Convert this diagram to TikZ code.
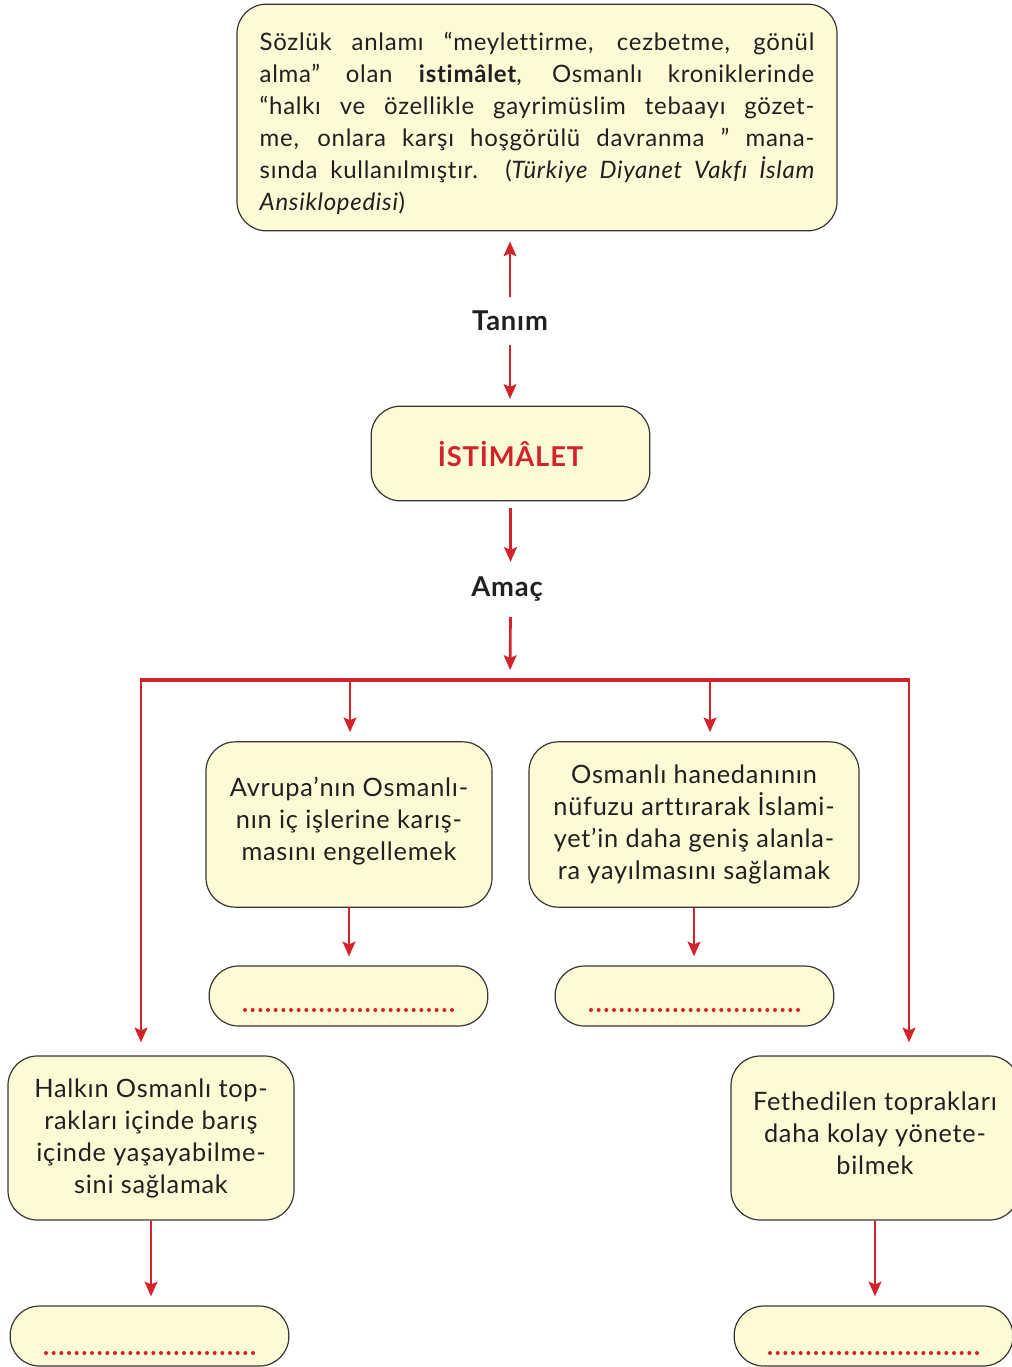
\documentclass[tikz,border=0pt]{standalone}
\usepackage{fontspec}
\setmainfont{Lato}[LetterSpace=3, Ligatures=NoCommon]
\usetikzlibrary{arrows.meta,positioning}
\definecolor{sari}{HTML}{FDFBD6}
\definecolor{kirmizi}{HTML}{D2232A}
\definecolor{yazi}{HTML}{231F20}
\tikzset{
	kutu/.style={draw=yazi!90, line width=0.9pt, fill=sari, rounded corners=22pt, inner sep=0pt,
		text=yazi, align=center, font=\fontsize{19}{24}\selectfont,
		minimum width=214.5pt, minimum height=124pt},
	bos/.style={kutu, minimum width=209pt, minimum height=45pt},
	ok/.style={draw=kirmizi, line width=2pt, -{Stealth[length=11pt,width=9.5pt,inset=2pt]}},
	baslik/.style={font=\bfseries\fontsize{20.5}{22}\selectfont, text=yazi, inner sep=0pt},
	nokta/.style={draw=kirmizi, line width=3pt, line cap=round, dash pattern=on 0pt off 5.75pt},
}

\begin{document}
\begin{tikzpicture}[x=0.75pt, y=-0.75pt]
	\path[use as bounding box] (0,0) rectangle (1012,1367);
	\clip (0,0) rectangle (1012,1367);
	% tanim
	\node[kutu, minimum width=450pt, minimum height=170pt, text width=416pt, align=justify,
		font=\fontsize{18}{24}\selectfont] (tanimkutu) at (537,117.5)
		{\rule{0pt}{22pt}Sözlük anlamı “meylettirme, cezbetme, gönül\linebreak
		alma” olan \textbf{istimâlet}, Osmanlı kroniklerinde\linebreak
		“halkı ve özellikle gayrimüslim tebaayı gözet-\linebreak
		me, onlara karşı hoşgörülü davranma ” mana-\linebreak
		sında kullanılmıştır. (\textit{Türkiye Diyanet Vakfı İslam\linebreak
		Ansiklopedisi})};
	\node[baslik, minimum height=36pt] (tanim) at (510,321) {Tanım};
	\node[kutu, minimum width=209pt, minimum height=71pt, text=kirmizi,
		font=\bfseries\fontsize{20.5}{24}\selectfont] (istimalet) at (510.5,453.5) {İSTİMÂLET};
	\node[baslik, minimum height=41pt] (amac) at (507,589.5) {Amaç};
	\coordinate (bar) at (510,680);
	% amaclar
	\node[kutu] (kA) at (349,824.5) {Avrupa’nın Osmanlı-\\nın iç işlerine karış-\\masını engellemek\\[-16pt]\mbox{}};
	\node[kutu, minimum width=247.5pt] (kB) at (694,824.5) {Osmanlı hanedanının\\nüfuzu arttırarak İslami-\\yet’in daha geniş alanla-\\ra yayılmasını sağlamak};
	\node[kutu, minimum height=123pt] (kC) at (151,1138) {Halkın Osmanlı top-\\rakları içinde barış\\içinde yaşayabilme-\\sini sağlamak};
	\node[kutu, minimum width=216pt, minimum height=123pt] (kD) at (875,1138) {Fethedilen toprakları\\daha kolay yönete-\\bilmek\\[-16pt]\mbox{}};
	\foreach \X/\Y/\Z in {348.5/996/dA, 694.5/996/dB, 149.5/1336/dC, 873.5/1336/dD}
	{\node[bos] (\Z) at (\X,\Y) {};}
	\foreach \Z/\dy in {dA/14, dB/14, dC/17, dD/17}
	{\draw[nokta] (\Z.center) ++(-103.5,\dy) -- ++(207,0);}
	% oklar
	\draw[ok, shorten >=7.5pt] (tanim) -- (tanim |- tanimkutu.south);
	\draw[ok, shorten >=5pt] (tanim) -- (tanim |- istimalet.north);
	\draw[ok, shorten <=5pt] (istimalet.south) -- (istimalet.south |- amac.north);
	\draw[ok, shorten >=7.5pt] (istimalet.south |- amac.south) -- (bar);
	\draw[kirmizi, line width=3.6pt] (140,680) -- (910,680);
	\foreach \X/\K/\S in {141/kC/9.75pt, 350/kA/6.75pt, 710/kB/6.75pt, 909/kD/9.75pt}
	{\draw[ok, shorten >=\S] (\X,680) -- (\X,680 |- \K.north);}
	\foreach \K/\D in {kA/dA, kB/dB, kC/dC, kD/dD}
	{\draw[ok, shorten >=6.75pt] (\K.south) -- (\K.south |- \D.north);}
\end{tikzpicture}
\end{document}
